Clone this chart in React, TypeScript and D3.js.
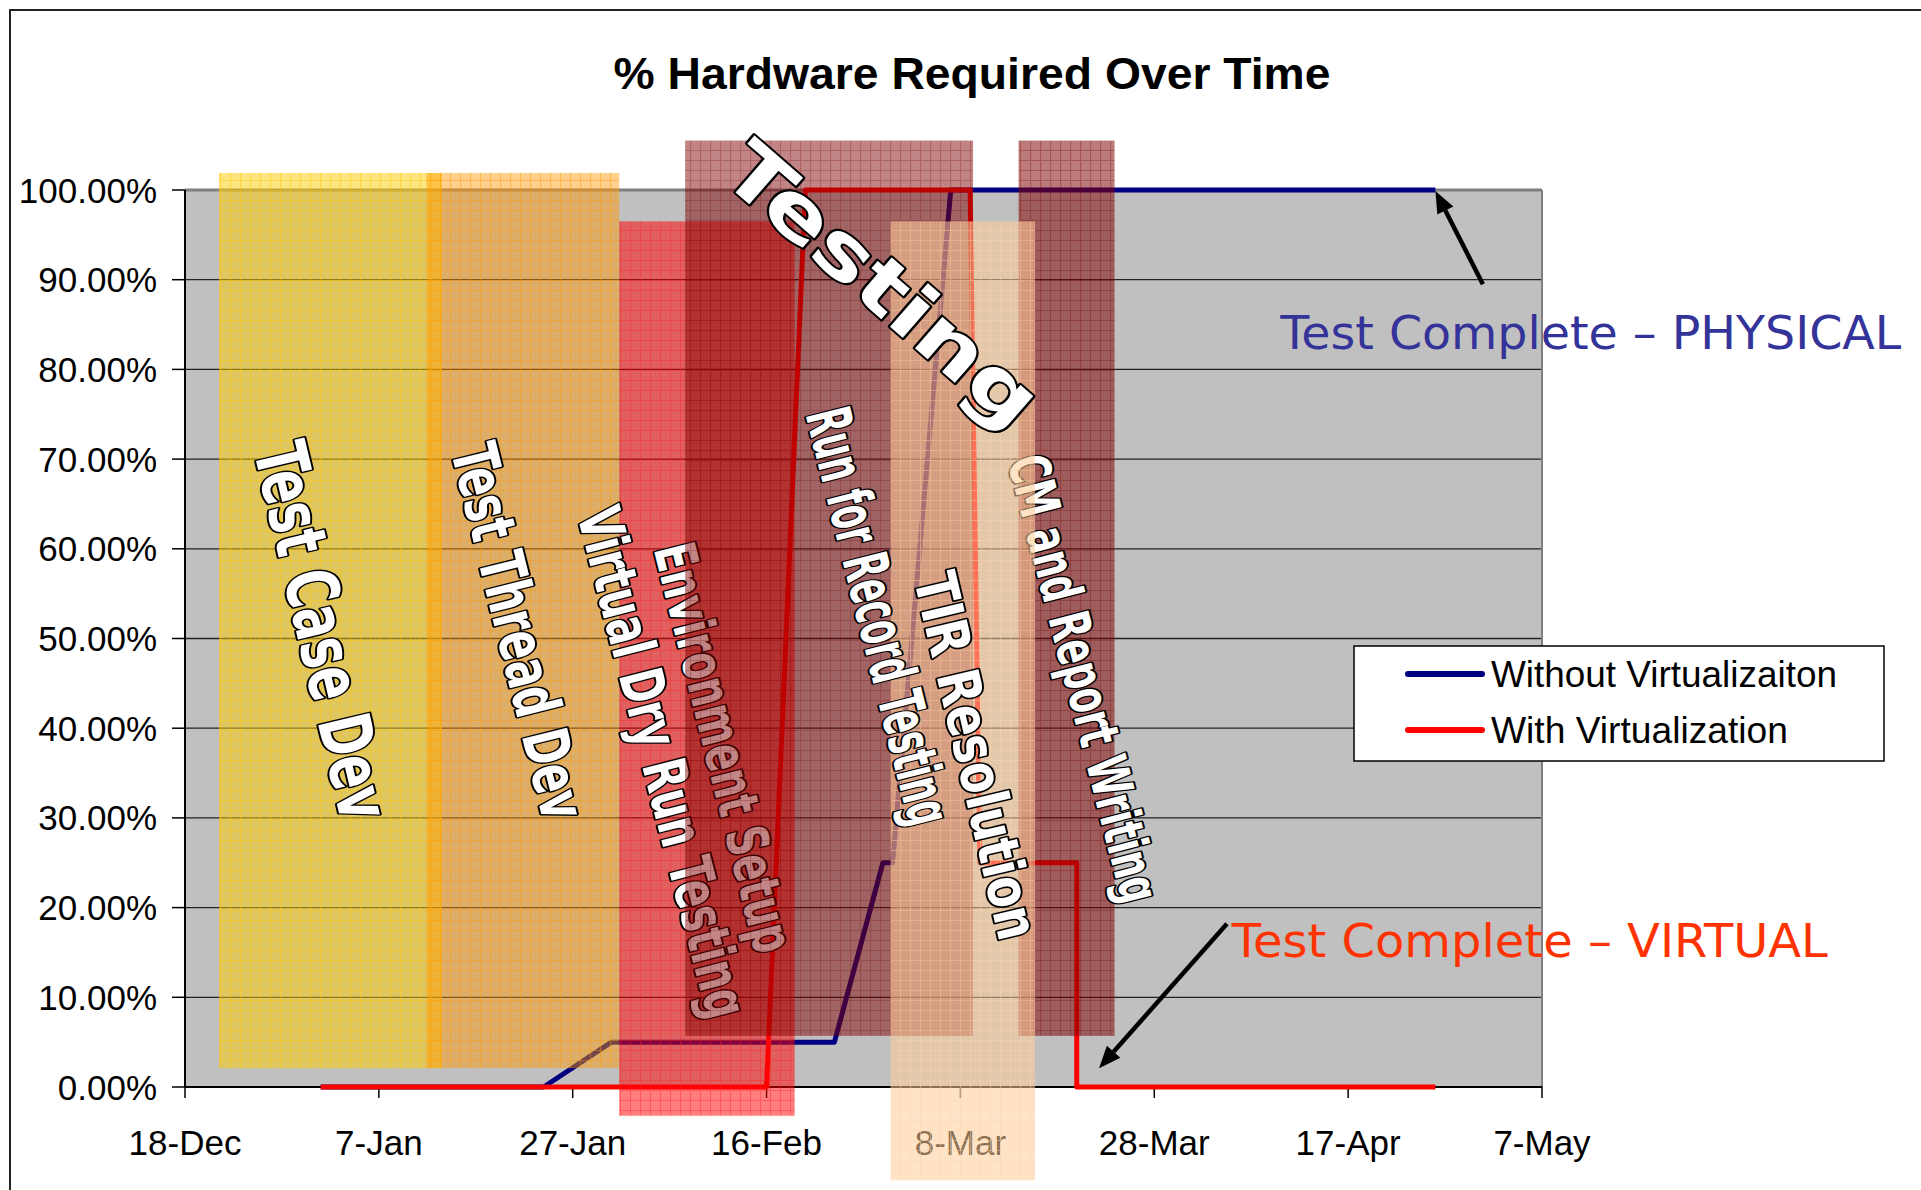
import React from 'react';
import * as d3 from 'd3';

// ---------- data ----------
const START = Date.UTC(2006, 11, 18); // 18-Dec
const day = (n: number) => new Date(START + n * 86400000);

const xTickDays = [0, 20, 40, 60, 80, 100, 120, 140];
const xTickLabels = ['18-Dec', '7-Jan', '27-Jan', '16-Feb', '8-Mar', '28-Mar', '17-Apr', '7-May'];
const yTickValues = [0, 10, 20, 30, 40, 50, 60, 70, 80, 90, 100];

const seriesNames = ['Without Virtualizaiton', 'With Virtualization'];
const withoutDays = [14, 37, 44, 67, 72, 73, 79, 129];
const withoutValues = [0, 0, 5, 5, 25, 25, 100, 100];
const withDays = [14, 60, 64, 81, 82, 92, 92, 129];
const withValues = [0, 0, 100, 100, 25, 25, 0, 0];

// phase bands (day offsets from 18-Dec, % values)
const bandStartDays = [3.5, 24.9, 44.8, 51.6, 72.8, 86.0];
const bandEndDays = [26.5, 44.8, 62.9, 81.3, 87.7, 95.9];
const bandTopValues = [101.9, 101.9, 96.5, 105.5, 96.5, 105.5];
const bandBottomValues = [2.1, 2.1, -3.2, 5.7, -10.4, 5.7];

const phaseLabelTexts = ['Test Case Dev', 'Test Thread Dev', 'Virtual Dry Run Testing', 'Environment Setup',
  'Run for Record Testing', 'TIR Resolution', 'CM and Report Writing', 'Testing'];
const phaseLabelDays = [11.6, 32.2, 47.2, 53.6, 69.4, 79.6, 90.8, 70.15];
const phaseLabelValues = [50.2, 50.2, 35.6, 37.3, 51.9, 36.4, 45.0, 87.2];

const annotationTexts = ['Test Complete \u2013 PHYSICAL', 'Test Complete \u2013 VIRTUAL'];
const annotationDays = [113, 108];
const annotationValues = [82.3, 14.5];
const arrowTailDays = [133.9, 107.5];
const arrowTailValues = [89.5, 18.2];
const arrowTipDays = [129, 94.3];
const arrowTipValues = [99.9, 2.1];

// ---------- styles ----------
const bandColors = ['#FFCC00', '#FF9900', '#FF0000', '#800000', '#FFCC99', '#800000'];
const bandAlpha = [0.5, 0.45, 0.5, 0.48, 0.55, 0.52];
const bandGrid = ['#FFC800', '#FF9900', '#FF2020', '#700000', '#FFD8A8', '#700000'];
const bandGridAlpha = [0.45, 0.45, 0.4, 0.25, 0.45, 0.3];
const labelAngles = [76.7, 76, 75.5, 75.9, 75.8, 76.7, 75.5, 41];
const labelSizes = [72, 63, 60, 57, 62, 58, 56, 76];
const labelLengths = [385, 385, 525, 420, 428, 375, 460, 390];
const annotationColors = ['#333399', '#FF3300'];
const annotationLengths = [621, 596];

const FONT = "'Liberation Sans', Arial, sans-serif";
const WORDART = "'DejaVu Sans', Verdana, sans-serif";

export default function App() {
  const W = 1921, H = 1190;
  const plot = { left: 185, right: 1542, top: 190, bottom: 1087 };
  const x = d3.scaleUtc().domain([day(0), day(140)]).range([plot.left, plot.right]);
  const y = d3.scaleLinear().domain([0, 100]).range([plot.bottom, plot.top]);
  const line = d3.line<[number, number]>().x(d => x(day(d[0]))).y(d => y(d[1]));

  const blue = line(withoutDays.map((d, i) => [d, withoutValues[i]] as [number, number])) || '';
  const red = line(withDays.map((d, i) => [d, withValues[i]] as [number, number])) || '';

  const band = (i: number) => {
    const x0 = x(day(bandStartDays[i])), x1 = x(day(bandEndDays[i]));
    const y0 = y(bandTopValues[i]), y1 = y(bandBottomValues[i]);
    return <rect key={'band' + i} x={x0} y={y0} width={x1 - x0} height={y1 - y0} fill={`url(#pat${i})`} />;
  };

  const label = (i: number) => (
    <text key={'lab' + i}
      transform={`translate(${x(day(phaseLabelDays[i]))},${y(phaseLabelValues[i])}) rotate(${labelAngles[i]})`}
      textAnchor="middle" fontFamily={WORDART} fontWeight="bold" fontSize={labelSizes[i]}
      textLength={labelLengths[i]} lengthAdjust="spacingAndGlyphs"
      fill="#ffffff" stroke="#000000" strokeWidth={4} strokeLinejoin="round"
      style={{ paintOrder: 'stroke' }}>{phaseLabelTexts[i]}</text>
  );

  const arrow = (i: number) => {
    const tx = x(day(arrowTailDays[i])), ty = y(arrowTailValues[i]);
    const hx = x(day(arrowTipDays[i])), hy = y(arrowTipValues[i]);
    const ang = Math.atan2(hy - ty, hx - tx);
    const len = 22, half = 9;
    const bx = hx - len * Math.cos(ang), by = hy - len * Math.sin(ang);
    const px = -Math.sin(ang) * half, py = Math.cos(ang) * half;
    return (
      <g key={'arr' + i}>
        <line x1={tx} y1={ty} x2={bx} y2={by} stroke="#000" strokeWidth={4.5} />
        <polygon points={`${hx},${hy} ${bx + px},${by + py} ${bx - px},${by - py}`} fill="#000" />
      </g>
    );
  };

  return (
    <svg width={W} height={H} style={{ position: 'absolute', left: 0, top: 0, background: '#fff' }}>
      <defs>
        {bandColors.map((c, i) => (
          <pattern key={i} id={`pat${i}`} patternUnits="userSpaceOnUse" width={10} height={10}>
            <rect width={10} height={10} fill={c} fillOpacity={bandAlpha[i]} />
            <path d="M0 0.5H10M0.5 0V10" stroke={bandGrid[i]} strokeOpacity={bandGridAlpha[i]} strokeWidth={1.2} />
          </pattern>
        ))}
      </defs>
      <rect x={0} y={0} width={W} height={H} fill="#fff" />
      {/* chart border */}
      <path d={`M10 ${H}V10H${W}`} fill="none" stroke="#222" strokeWidth={2} />

      {/* title */}
      <text x={972} y={89} textAnchor="middle" fontFamily={FONT} fontWeight="bold" fontSize={45}
        textLength={717} lengthAdjust="spacingAndGlyphs">% Hardware Required Over Time</text>

      {/* plot area */}
      <rect x={plot.left} y={plot.top} width={plot.right - plot.left} height={plot.bottom - plot.top} fill="#C0C0C0" />
      {yTickValues.filter(v => v > 0 && v < 100).map(v => (
        <line key={'g' + v} x1={plot.left} x2={plot.right} y1={y(v)} y2={y(v)} stroke="#222" strokeWidth={1.3} />
      ))}
      <line x1={plot.left} x2={plot.right} y1={plot.top} y2={plot.top} stroke="#808080" strokeWidth={3} />
      <line x1={plot.right} x2={plot.right} y1={plot.top} y2={plot.bottom} stroke="#808080" strokeWidth={2} />

      {/* axes */}
      <line x1={plot.left} x2={plot.left} y1={plot.top} y2={plot.bottom} stroke="#000" strokeWidth={2} />
      <line x1={plot.left} x2={plot.right} y1={plot.bottom} y2={plot.bottom} stroke="#000" strokeWidth={2} />
      {yTickValues.map(v => (
        <g key={'yt' + v}>
          <line x1={plot.left - 13} x2={plot.left} y1={y(v)} y2={y(v)} stroke="#000" strokeWidth={1.5} />
          <text x={157} y={y(v) + 12.5} textAnchor="end" fontFamily={FONT} fontSize={35}>{d3.format('.2f')(v)}%</text>
        </g>
      ))}
      {xTickDays.map((d, i) => (
        <g key={'xt' + d}>
          <line x1={x(day(d))} x2={x(day(d))} y1={plot.bottom} y2={plot.bottom + 11} stroke="#000" strokeWidth={1.5} />
          <text x={x(day(d))} y={1155} textAnchor="middle" fontFamily={FONT} fontSize={35}>{xTickLabels[i]}</text>
        </g>
      ))}

      {/* series */}
      <path d={blue} fill="none" stroke="#000080" strokeWidth={5} strokeLinejoin="round" />
      <path d={red} fill="none" stroke="#FF0000" strokeWidth={5} strokeLinejoin="round" />

      {/* phase bands & labels, layered */}
      {band(0)}
      {band(1)}
      {band(2)}
      {label(0)}
      {label(1)}
      {label(2)}
      {label(3)}
      {band(3)}
      {band(5)}
      {label(6)}
      {band(4)}
      {label(4)}
      {label(5)}
      {label(7)}

      {/* annotations */}
      {arrow(0)}
      {arrow(1)}
      {annotationTexts.map((t, i) => (
        <text key={'an' + i} x={x(day(annotationDays[i]))} y={y(annotationValues[i])}
          fontFamily="'DejaVu Sans', Verdana, sans-serif" fontSize={47} fill={annotationColors[i]}
          textLength={annotationLengths[i]} lengthAdjust="spacingAndGlyphs">{t}</text>
      ))}

      {/* legend */}
      <rect x={1354} y={646} width={530} height={115} fill="#fff" stroke="#000" strokeWidth={1.5} />
      {seriesNames.map((n, i) => (
        <g key={'lg' + i}>
          <line x1={1408} x2={1482} y1={674 + i * 56} y2={674 + i * 56}
            stroke={i === 0 ? '#000080' : '#FF0000'} strokeWidth={6} strokeLinecap="round" />
          <text x={1491} y={687 + i * 56} fontFamily={FONT} fontSize={36}
            textLength={i === 0 ? 346 : 297} lengthAdjust="spacingAndGlyphs">{n}</text>
        </g>
      ))}
    </svg>
  );
}
